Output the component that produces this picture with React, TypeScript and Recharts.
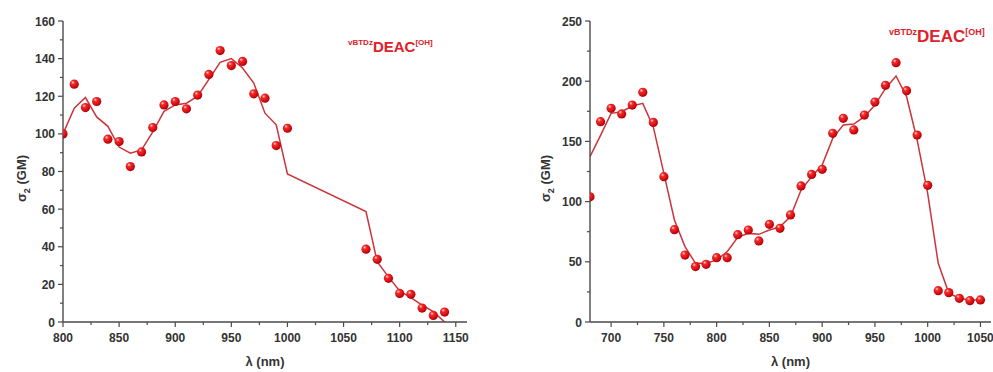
import React from 'react';
import { ComposedChart, Line, XAxis, YAxis, Label } from 'recharts';

// ---------- Left panel data ----------
const leftWavelengths = [800, 810, 820, 830, 840, 850, 860, 870, 880, 890, 900, 910, 920, 930, 940, 950, 960, 970, 980, 990, 1000, 1070, 1080, 1090, 1100, 1110, 1120, 1130, 1140];
const leftMeasured = [100, 126.4, 114, 117.2, 97.2, 95.9, 82.6, 90.4, 103.4, 115.4, 117.2, 113.3, 120.6, 131.6, 144.3, 136.3, 138.5, 121.3, 119, 93.8, 103, 38.7, 33.3, 23.2, 15.2, 14.7, 7.4, 3.5, 5.3];
const leftFit = [100, 113.6, 119.3, 109, 104, 93, 89.7, 91.5, 101, 112, 115.4, 116.3, 120, 129, 138, 140, 135, 127, 111, 104.8, 78.7, 58.7, 32, 24, 16.5, 13, 9, 5.5, 0];
const leftXMajor = [800, 850, 900, 950, 1000, 1050, 1100, 1150];
const leftXMinor = [825, 875, 925, 975, 1025, 1075, 1125];
const leftYMajor = [0, 20, 40, 60, 80, 100, 120, 140, 160];
const leftYMinor = [10, 30, 50, 70, 90, 110, 130, 150];

// ---------- Right panel data ----------
const rightWavelengths = [680, 690, 700, 710, 720, 730, 740, 750, 760, 770, 780, 790, 800, 810, 820, 830, 840, 850, 860, 870, 880, 890, 900, 910, 920, 930, 940, 950, 960, 970, 980, 990, 1000, 1010, 1020, 1030, 1040, 1050];
const rightMeasured = [104, 166.4, 177.5, 172.8, 180.2, 190.8, 165.8, 120.7, 76.7, 55.6, 46, 47.9, 53.4, 53.4, 72.5, 76.4, 67.3, 81.1, 77.8, 88.9, 113, 122.6, 126.8, 156.7, 169.2, 159.5, 171.9, 182.7, 196.6, 215.4, 192.1, 155.3, 113.5, 26, 24.4, 19.7, 17.7, 18.3];
const rightFit = [137.3, 155, 173.3, 174.7, 179.4, 181.6, 162, 123.5, 84.7, 62.6, 48.7, 48.7, 51.5, 58.4, 70.3, 73.6, 72.8, 76.4, 79, 87.5, 109.6, 120.7, 130.4, 152.5, 163.6, 164.4, 170.5, 180.2, 194, 204.3, 187.2, 151.2, 106.9, 48.7, 24, 19.7, 18.3, 18.3];
const rightXMajor = [700, 750, 800, 850, 900, 950, 1000, 1050];
const rightXMinor = [725, 775, 825, 875, 925, 975, 1025];
const rightYMajor = [0, 50, 100, 150, 200, 250];
const rightYMinor = [25, 75, 125, 175, 225];

const AXIS = '#4a4a4a';
const TXT = '#333333';
const LINE = '#c9353a';
const FONT = '"Liberation Sans", Arial, sans-serif';

const buildRows = (xs: number[], meas: number[], fit: number[]) =>
  xs.map((x, i) => ({ x, measured: meas[i], fit: fit[i] }));

const leftRows = buildRows(leftWavelengths, leftMeasured, leftFit);
const rightRows = buildRows(rightWavelengths, rightMeasured, rightFit);

const makeXTick = (major: number[]) => (props: any) => {
  const { x, y, payload } = props;
  const isMajor = major.includes(payload.value);
  return (
    <g>
      <line x1={x} x2={x} y1={y} y2={y + (isMajor ? 5 : 3)} stroke={AXIS} strokeWidth={1.2} />
      {isMajor && (
        <text x={x} y={y + 20} textAnchor="middle" fontSize={12} fontWeight="bold" fill={TXT} fontFamily={FONT}>
          {payload.value}
        </text>
      )}
    </g>
  );
};

const makeYTick = (major: number[]) => (props: any) => {
  const { x, y, payload } = props;
  const isMajor = major.includes(payload.value);
  return (
    <g>
      <line x1={x - (isMajor ? 5 : 3)} x2={x} y1={y} y2={y} stroke={AXIS} strokeWidth={1.2} />
      {isMajor && (
        <text x={x - 8} y={y + 4.5} textAnchor="end" fontSize={12} fontWeight="bold" fill={TXT} fontFamily={FONT}>
          {payload.value}
        </text>
      )}
    </g>
  );
};

const Ball = (props: any) => {
  const { cx, cy, index } = props;
  if (cx == null || cy == null || isNaN(cy)) return <g key={index} />;
  return <circle key={index} cx={cx} cy={cy} r={4.6} fill="url(#ballGrad)" />;
};

const yLabel = (xPos: number) => (props: any) => {
  const vb = props.viewBox || {};
  const cy = (vb.y || 0) + (vb.height || 0) / 2 + 7;
  return (
    <text
      x={xPos}
      y={cy}
      transform={`rotate(-90, ${xPos}, ${cy})`}
      textAnchor="middle"
      fontSize={13}
      fontWeight="bold"
      fill={TXT}
      fontFamily={FONT}
    >
      σ<tspan fontSize={9} dy={4}>2</tspan>
      <tspan dy={-4}> (GM)</tspan>
    </text>
  );
};

const xLabel = (props: any) => {
  const vb = props.viewBox || {};
  const cx = (vb.x || 0) + (vb.width || 0) / 2;
  return (
    <text x={cx} y={366} textAnchor="middle" fontSize={13} fontWeight="bold" fill={TXT} fontFamily={FONT}>
      λ (nm)
    </text>
  );
};

type PanelProps = {
  rows: any[];
  width: number;
  margin: any;
  xDomain: [number, number];
  xMajor: number[];
  xMinor: number[];
  yDomain: [number, number];
  yMajor: number[];
  yMinor: number[];
  yLabelX: number;
};

const Panel = (p: PanelProps) => (
  <ComposedChart width={p.width} height={372} data={p.rows} margin={p.margin}>
    <XAxis
      dataKey="x"
      type="number"
      domain={p.xDomain}
      ticks={[...p.xMajor, ...p.xMinor].sort((a, b) => a - b)}
      interval={0}
      tickSize={0}
      tickMargin={0}
      tickLine={false}
      tick={makeXTick(p.xMajor)}
      axisLine={{ stroke: AXIS, strokeWidth: 1.4 }}
      height={30}
      allowDataOverflow
    >
      <Label content={xLabel} />
    </XAxis>
    <YAxis
      type="number"
      domain={p.yDomain}
      ticks={[...p.yMajor, ...p.yMinor].sort((a, b) => a - b)}
      interval={0}
      tickSize={0}
      tickMargin={0}
      tickLine={false}
      tick={makeYTick(p.yMajor)}
      axisLine={{ stroke: AXIS, strokeWidth: 1.4 }}
      width={40}
      allowDataOverflow
    >
      <Label content={yLabel(p.yLabelX)} />
    </YAxis>
    <Line
      dataKey="fit"
      type="linear"
      stroke={LINE}
      strokeWidth={1.5}
      dot={false}
      activeDot={false}
      isAnimationActive={false}
    />
    <Line
      dataKey="measured"
      stroke="none"
      dot={Ball}
      activeDot={false}
      isAnimationActive={false}
    />
  </ComposedChart>
);

const Title = ({ left, top, big, small }: { left: number; top: number; big: number; small: number }) => (
  <div
    style={{
      position: 'absolute',
      left,
      top,
      color: '#e0202a',
      fontFamily: FONT,
      fontWeight: 'bold',
      whiteSpace: 'nowrap',
      lineHeight: 1,
    }}
  >
    <span style={{ fontSize: small, verticalAlign: 'top' }}>vBTDz</span>
    <span style={{ fontSize: big }}>DEAC</span>
    <span style={{ fontSize: small, verticalAlign: 'top' }}>[OH]</span>
  </div>
);

export default function App() {
  return (
    <div style={{ position: 'absolute', left: 0, top: 0, width: 993, height: 372, background: '#fff', overflow: 'hidden' }}>
      <svg width={0} height={0} style={{ position: 'absolute' }}>
        <defs>
          <radialGradient id="ballGrad" cx="38%" cy="35%" r="65%" fx="35%" fy="30%">
            <stop offset="0%" stopColor="#ffd6d6" />
            <stop offset="30%" stopColor="#f22a2a" />
            <stop offset="75%" stopColor="#d40d10" />
            <stop offset="100%" stopColor="#a80008" />
          </radialGradient>
        </defs>
      </svg>
      <div style={{ position: 'absolute', left: 0, top: 0 }}>
        <Panel
          rows={leftRows}
          width={500}
          margin={{ top: 21, right: 33, bottom: 20, left: 23 }}
          xDomain={[800, 1160]}
          xMajor={leftXMajor}
          xMinor={leftXMinor}
          yDomain={[0, 160]}
          yMajor={leftYMajor}
          yMinor={leftYMinor}
          yLabelX={26}
        />
      </div>
      <div style={{ position: 'absolute', left: 520, top: 0 }}>
        <Panel
          rows={rightRows}
          width={473}
          margin={{ top: 21, right: 2, bottom: 20, left: 30 }}
          xDomain={[680, 1060]}
          xMajor={rightXMajor}
          xMinor={rightXMinor}
          yDomain={[0, 250]}
          yMajor={rightYMajor}
          yMinor={rightYMinor}
          yLabelX={30}
        />
      </div>
      <Title left={348} top={39} big={15} small={8} />
      <Title left={889} top={28} big={17} small={9} />
    </div>
  );
}
